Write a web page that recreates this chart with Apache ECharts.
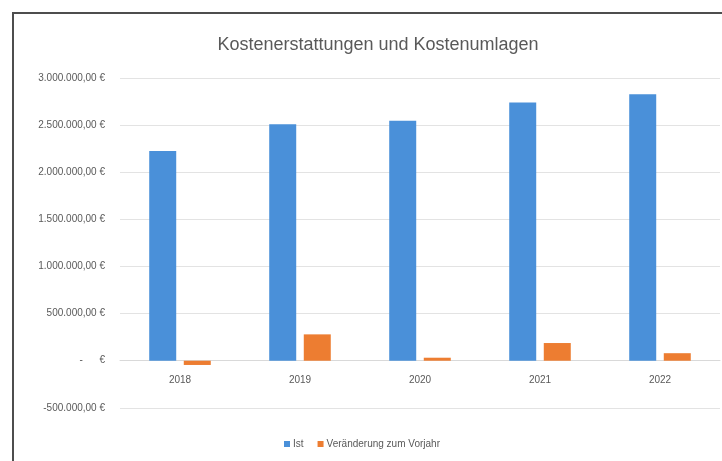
<!DOCTYPE html>
<html><head><meta charset="utf-8">
<script src="https://cdn.jsdelivr.net/npm/echarts@6/dist/echarts.min.js"></script>
<style>html,body{margin:0;padding:0;background:#fff}#c{width:722px;height:461px}</style>
</head><body><div id="c"></div>
<script>
const titleText = 'Kostenerstattungen und Kostenumlagen';
const categories = ['2018', '2019', '2020', '2021', '2022'];
const istValues = [2228000, 2512000, 2550000, 2742000, 2831000];
const changeValues = [-45000, 280000, 32000, 188000, 80000];
const seriesNames = ['Ist', 'Veränderung zum Vorjahr'];
const yTicks = { min: -500000, max: 3000000, step: 500000 };

const FONT = '"Liberation Sans Narrow", "Liberation Sans", sans-serif';
function fmt(v) {
  if (v === 0) return '-      €';
  const neg = v < 0;
  const s = Math.abs(v).toString().replace(/\B(?=(\d{3})+(?!\d))/g, '.');
  return (neg ? '-' : '') + s + ',00 €';
}
const gridTop = 78.3, gridBottomY = 407.8;
const pxPerUnit = (gridBottomY - gridTop) / (yTicks.max - yTicks.min);
const zeroOffset = (0 - yTicks.min) * pxPerUnit;
const chart = echarts.init(document.getElementById('c'), null, { renderer: 'canvas' });
chart.setOption({
  animation: false,
  backgroundColor: '#fff',
  title: {
    text: titleText, left: 373, top: 31, textAlign: 'center',
    textStyle: { fontFamily: FONT, fontSize: 18, fontWeight: 'normal', color: '#595959' }
  },
  legend: {
    data: seriesNames, left: 279, top: 434, itemWidth: 6, itemHeight: 6, itemGap: 14,
    icon: 'rect',
    textStyle: { fontFamily: FONT, fontSize: 10, color: '#595959', padding: [0, 0, 0, -2] }
  },
  grid: { left: 120, right: 2, top: gridTop, bottom: 461 - gridBottomY, containLabel: false },
  xAxis: {
    type: 'category', data: categories, offset: -zeroOffset,
    axisLine: { onZero: false, lineStyle: { color: '#d9d9d9', width: 1 } },
    axisTick: { show: false },
    axisLabel: { fontFamily: FONT, fontSize: 10, color: '#595959', margin: 15 }
  },
  yAxis: {
    type: 'value', min: yTicks.min, max: yTicks.max, interval: yTicks.step,
    axisLine: { show: false }, axisTick: { show: false },
    splitLine: { lineStyle: { color: '#e3e3e3', width: 1 } },
    axisLabel: { fontFamily: FONT, fontSize: 10, color: '#595959', margin: 15, formatter: fmt }
  },
  series: [
    { name: seriesNames[0], type: 'bar', data: istValues, barWidth: 27, barGap: '28%',
      itemStyle: { color: '#4a90d9' } },
    { name: seriesNames[1], type: 'bar', data: changeValues, barWidth: 27,
      itemStyle: { color: '#ed7d31' } }
  ],
  graphic: [
    { type: 'line', shape: { x1: 13, y1: 13, x2: 722, y2: 13 }, style: { stroke: '#4d4d4d', lineWidth: 2 } },
    { type: 'line', shape: { x1: 13, y1: 12, x2: 13, y2: 461 }, style: { stroke: '#4d4d4d', lineWidth: 2 } }
  ]
});
</script></body></html>
